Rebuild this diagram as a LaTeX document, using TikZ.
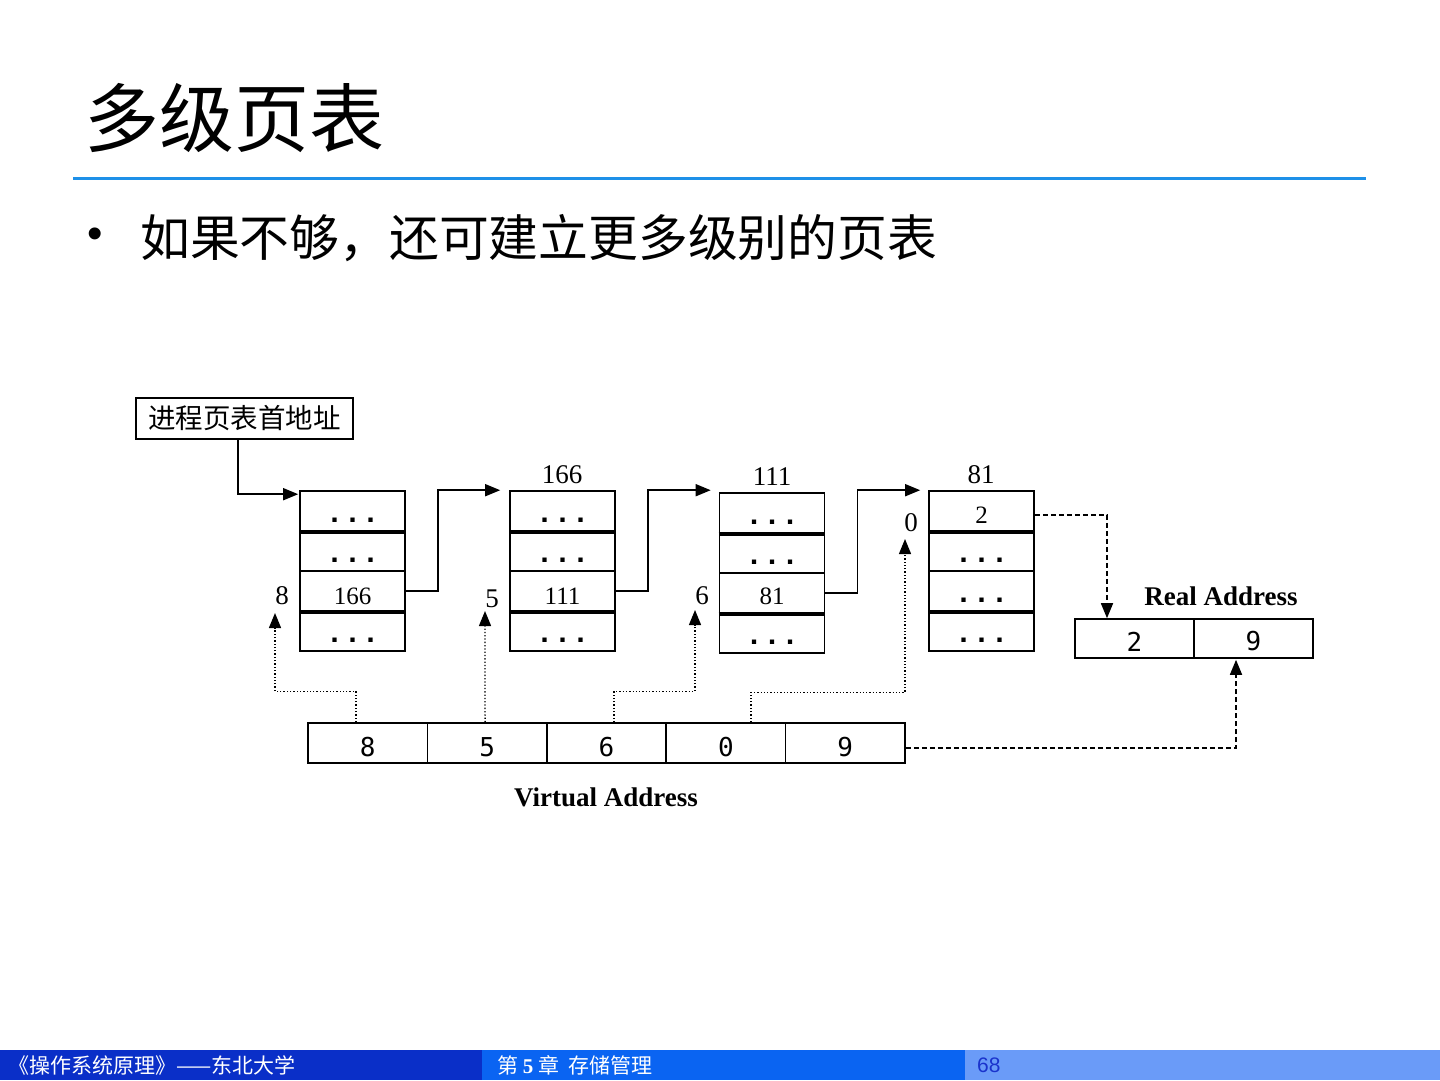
\documentclass[tikz,border=0pt]{standalone}
\usepackage{fontspec}
\setmainfont{Liberation Serif}
\newfontfamily\cjk{Noto Sans CJK SC}
\newfontfamily\monof{DejaVu Sans Mono}
\newfontfamily\monodots{Liberation Mono}
\newfontfamily\sansf{Liberation Sans}
\usetikzlibrary{arrows.meta}
\definecolor{rule}{HTML}{1E90E8}
\definecolor{footA}{HTML}{0A2FC8}
\definecolor{footB}{HTML}{0A64F2}
\definecolor{footC}{HTML}{6A9BF8}
\definecolor{pagenum}{HTML}{1A33CC}
\tikzset{
  cell/.style={draw, line width=1.6pt, minimum width=105pt, minimum height=40pt, inner sep=0pt, font=\fontsize{25}{25}\selectfont},
  vcell/.style={draw, line width=1.6pt, minimum width=119.4pt, minimum height=40pt, inner sep=0pt},
  rcell/.style={draw, line width=1.6pt, minimum width=119pt, minimum height=39pt, inner sep=0pt},
  digit/.style={inner sep=0pt, font=\monof\fontsize{26}{26}\selectfont},
  idx/.style={inner sep=0pt, font=\fontsize{27}{27}\selectfont},
  conn/.style={line width=1.6pt, -{Triangle[length=15pt,width=12pt]}},
  dotconn/.style={line width=1.3pt, dotted, -{Triangle[length=15pt,width=12pt]}},
  dashconn/.style={line width=1.6pt, dash pattern=on 5pt off 3pt, -{Triangle[length=15pt,width=12pt]}},
  sep/.style={line width=3.4pt},
  lbl/.style={inner sep=0pt, font=\bfseries\fontsize{27}{27}\selectfont},
}
\newcommand{\dd}{{\monodots\bfseries\fontsize{30}{30}\selectfont...}}
\begin{document}
\begin{tikzpicture}[x=1pt,y=-1pt]
\useasboundingbox (0,0) rectangle (1440,1080);
\fill[white] (0,0) rectangle (1440,1080);

% title
\node[anchor=west, inner sep=0pt, font=\cjk\fontsize{75}{75}\selectfont] (title) at (84,118) {多级页表};
\draw[rule, line width=3pt] (73,178) -- (1366,178);
\node[inner sep=0pt, font=\sansf\fontsize{44}{44}\selectfont] (bullet) at (95,238) {•};
\node[anchor=west, inner sep=0pt, font=\cjk\fontsize{49.8}{49.8}\selectfont] (sub) at (140,238) {如果不够，还可建立更多级别的页表};

% footer
\fill[footA] (0,1050) rectangle (482,1080);
\fill[footB] (482,1050) rectangle (965,1080);
\fill[footC] (965,1050) rectangle (1440,1080);
\node[anchor=west, inner sep=0pt, text=white, font=\cjk\fontsize{21}{21}\selectfont] (f1) at (8,1065) {《操作系统原理》——东北大学};
\node[anchor=west, inner sep=0pt, text=white, font=\cjk\fontsize{21}{21}\selectfont] (f2) at (497,1065) {第 {\bfseries\fontspec{Liberation Serif}5} 章 \ 存储管理};
\node[anchor=west, inner sep=0pt, text=pagenum, font=\sansf\fontsize{21}{21}\selectfont] (f3) at (977,1065) {68};

% start box
\node[draw, line width=1.6pt, minimum width=217pt, minimum height=41pt, inner sep=0pt, font=\cjk\fontsize{27.5}{27.5}\selectfont] (start) at (244.5,418.5) {\raisebox{-3pt}{进程页表首地址}};

% tables
\foreach \t/\x/\y in {1/352.5/491, 2/562.5/491, 3/772/493, 4/981.5/491} {
  \node[cell] (t\t r1) at (\x,\y+20) {};
  \node[cell] (t\t r2) at (\x,\y+60) {};
  \node[cell] (t\t r3) at (\x,\y+100) {};
  \node[cell] (t\t r4) at (\x,\y+140) {};
  \draw[sep] (t\t r1.south west) -- (t\t r1.south east);
  \draw[sep] (t\t r3.south west) -- (t\t r3.south east);
}
% cell contents
\node (c11) at ([yshift=-9pt]t1r1.center) {\dd};
\node (c12) at ([yshift=-9pt]t1r2.center) {\dd};
\node[font=\fontsize{25}{25}\selectfont] (c13) at ([yshift=-5pt]t1r3.center) {166};
\node (c14) at ([yshift=-9pt]t1r4.center) {\dd};
\node (c21) at ([yshift=-9pt]t2r1.center) {\dd};
\node (c22) at ([yshift=-9pt]t2r2.center) {\dd};
\node[font=\fontsize{25}{25}\selectfont] (c23) at ([yshift=-5pt]t2r3.center) {111};
\node (c24) at ([yshift=-9pt]t2r4.center) {\dd};
\node (c31) at ([yshift=-9pt]t3r1.center) {\dd};
\node (c32) at ([yshift=-9pt]t3r2.center) {\dd};
\node[font=\fontsize{25}{25}\selectfont] (c33) at ([yshift=-3pt]t3r3.center) {81};
\node (c34) at ([yshift=-9pt]t3r4.center) {\dd};
\node[font=\fontsize{25}{25}\selectfont] (c41) at ([yshift=-4pt]t4r1.center) {2};
\node (c42) at ([yshift=-9pt]t4r2.center) {\dd};
\node (c43) at ([yshift=-9pt]t4r3.center) {\dd};
\node (c44) at ([yshift=-9pt]t4r4.center) {\dd};

% table headings
\node[idx] (h2) at (562,475) {166};
\node[idx] (h3) at (772,477) {111};
\node[idx] (h4) at (981,475) {81};

% index labels
\node[idx] (i8) at (282,596) {8};
\node[idx] (i5) at (492,599) {5};
\node[idx] (i6) at (702,596) {6};
\node[idx] (i0) at (911,523) {0};

% arrow tips
\coordinate (p8) at (275,613);
\coordinate (p5) at (485,611);
\coordinate (p6) at (695,610);
\coordinate (p0) at (905,539);

% virtual address
\node[vcell] (v1) at (367.7,743) {};
\node[vcell] (v2) at (487.1,743) {};
\node[vcell] (v3) at (606.5,743) {};
\node[vcell] (v4) at (725.9,743) {};
\node[vcell] (v5) at (845.3,743) {};
\foreach \i/\d in {1/8,2/5,3/6,4/0,5/9} {
  \node[digit] (vd\i) at ([yshift=-4pt]v\i.center) {\d};
}
\node[lbl] (vlab) at (606,797) {Virtual Address};

% real address
\node[rcell] (r1) at (1134.5,638.5) {};
\node[rcell] (r2) at (1253.5,638.5) {};
\node[digit] (rd1) at ([yshift=-3pt]r1.center) {2};
\node[digit] (rd2) at ([yshift=-3pt]r2.center) {9};
\node[lbl] (rlab) at (1221,596) {Real Address};

% solid connectors
\draw[conn] ([xshift=-6.5pt]start.south) |- ([xshift=-1pt,yshift=-4pt]t1r1.north west);
\draw[conn] (t1r3.east) -- ++(32,0) |- ([xshift=-9pt]t2r1.north west);
\draw[conn] (t2r3.east) -- ++(32,0) |- ([xshift=-8pt,yshift=2pt]t3r1.north west);
\draw[conn] (t3r3.east) -- ++(32,0) |- ([xshift=-8pt]t4r1.north west);

% dotted connectors
\draw[dotconn] ([xshift=-11.7pt]v1.north) -- ++(0,-31) -| (p8);
\draw[dotconn] ([xshift=-2pt]v2.north) -- (p5);
\draw[dotconn] ([xshift=7.5pt]v3.north) -- ++(0,-31) -| (p6);
\draw[dotconn] ([xshift=25pt]v4.north) -- ++(0,-30) -| (p0);

% dashed connectors
\draw[dashconn] ([yshift=-4pt]t4r1.east) -| ([xshift=-27.5pt]r1.north);
\draw[dashconn] ([yshift=-5pt]v5.east) -| ([xshift=-17.5pt,yshift=-1pt]r2.south);
\end{tikzpicture}
\end{document}
